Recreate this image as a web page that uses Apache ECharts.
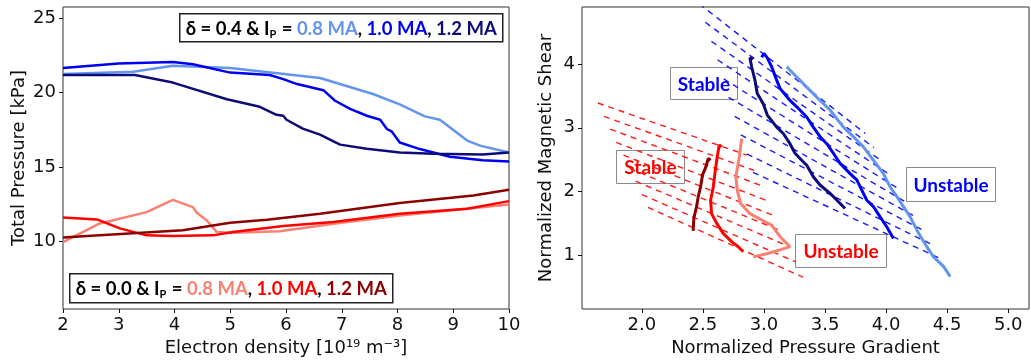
<!DOCTYPE html>
<html>
<head>
<meta charset="utf-8">
<script src="https://cdn.jsdelivr.net/npm/echarts@6/dist/echarts.min.js"></script>
<style>html,body{margin:0;padding:0;background:#fff}#c{width:1031px;height:363px}</style>
</head>
<body>
<div id="c"></div>
<script>
// ---- Left panel: Total pressure vs electron density ----
const leftXTicks = [2, 3, 4, 5, 6, 7, 8, 9, 10];
const leftYTicks = [10, 15, 20, 25];
const p_d04_08 = [[2,21.25],[3.26,21.4],[3.97,21.8],[5.0,21.65],[6.61,20.98],[7.56,19.9],[8.04,19.2],[8.49,18.4],[8.76,18.17],[9.25,16.77],[9.48,16.43],[10,15.97]];
const p_d04_10 = [[2,21.65],[3.0,21.95],[3.97,22.06],[4.33,21.9],[5.0,21.34],[5.71,21.18],[5.95,20.9],[6.2,20.57],[6.67,20.16],[6.88,19.45],[7.15,18.9],[7.45,18.44],[7.69,18.17],[7.81,17.55],[7.9,17.37],[8.04,16.64],[8.4,16.2],[8.94,15.68],[9.53,15.45],[10,15.37]];
const p_d04_12 = [[2,21.18],[3.29,21.18],[3.97,20.67],[4.94,19.55],[5.53,19.04],[5.83,18.5],[5.95,18.44],[6.01,18.17],[6.3,17.57],[6.61,17.17],[6.97,16.5],[7.45,16.22],[8.04,15.97],[8.64,15.89],[9.53,15.83],[10,15.97]];
const p_d00_08 = [[2,9.95],[2.66,11.2],[3.5,11.96],[3.97,12.79],[4.33,12.3],[4.4,11.92],[4.58,11.4],[4.76,10.62],[5.05,10.58],[5.89,10.67],[6.85,11.18],[8.04,11.74],[10,12.48]];
const p_d00_10 = [[2,11.6],[2.61,11.47],[3.02,10.87],[3.5,10.4],[3.97,10.36],[4.69,10.4],[5.05,10.62],[5.95,11.03],[6.85,11.3],[8.04,11.85],[9.25,12.19],[10,12.7]];
const p_d00_12 = [[2,10.25],[2.66,10.4],[4.15,10.74],[5.0,11.25],[5.66,11.45],[6.61,11.85],[8.04,12.57],[9.36,13.08],[10,13.46]];

// ---- Right panel: normalized shear vs normalized pressure gradient ----
const rightXTicks = [2.0, 2.5, 3.0, 3.5, 4.0, 4.5, 5.0];
const rightYTicks = [1, 2, 3, 4];
const s_d04_08 = [[3.186,3.96],[3.268,3.80],[3.35,3.64],[3.459,3.43],[3.541,3.28],[3.65,3.01],[3.732,2.86],[3.814,2.70],[3.896,2.49],[3.978,2.28],[4.033,2.07],[4.087,1.92],[4.142,1.76],[4.197,1.60],[4.252,1.39],[4.333,1.13],[4.388,0.97],[4.47,0.82],[4.525,0.66]];
const s_d04_10 = [[2.981,4.11],[3.0,4.17],[3.027,4.10],[3.063,3.96],[3.104,3.75],[3.131,3.62],[3.213,3.43],[3.268,3.33],[3.35,3.17],[3.404,3.01],[3.459,2.86],[3.514,2.75],[3.568,2.60],[3.623,2.44],[3.705,2.28],[3.76,2.18],[3.801,2.02],[3.842,1.86],[3.896,1.76],[3.951,1.60],[4.006,1.44],[4.06,1.26]];
const s_d04_12 = [[2.912,4.09],[2.885,4.10],[2.899,3.96],[2.926,3.75],[2.945,3.54],[2.994,3.38],[3.027,3.20],[3.104,3.01],[3.158,2.91],[3.213,2.75],[3.254,2.60],[3.309,2.49],[3.35,2.41],[3.404,2.23],[3.459,2.10],[3.541,1.97],[3.664,1.73]];
const s_d00_08 = [[2.817,2.83],[2.798,2.54],[2.77,2.23],[2.781,2.02],[2.809,1.81],[2.885,1.65],[2.981,1.55],[3.063,1.47],[3.131,1.29],[3.213,1.13],[3.131,1.08],[3.022,1.02],[2.912,0.97]];
const s_d00_10 = [[2.653,2.70],[2.634,2.73],[2.617,2.54],[2.598,2.28],[2.585,2.07],[2.563,1.86],[2.571,1.65],[2.612,1.50],[2.666,1.34],[2.735,1.21],[2.789,1.13],[2.83,1.05]];
const s_d00_12 = [[2.42,1.38],[2.426,1.58],[2.448,1.76],[2.462,1.92],[2.481,2.07],[2.497,2.26],[2.525,2.39],[2.544,2.52],[2.563,2.49]];
// stability boundary lines (dashed), endpoints
const redBounds = [
  [[1.64,3.39],[2.86,2.57]],[[1.69,3.18],[2.92,2.33]],[[1.74,2.98],[2.98,2.09]],
  [[1.79,2.77],[3.03,1.85]],[[1.85,2.57],[3.09,1.61]],[[1.90,2.36],[3.15,1.37]],
  [[1.95,2.16],[3.21,1.13]],[[2.00,1.95],[3.26,0.89]],[[2.05,1.75],[3.32,0.65]]
];
const blueBounds = [
  [[2.47,4.95],[3.83,2.91]],[[2.52,4.66],[3.90,2.69]],[[2.57,4.36],[3.97,2.47]],
  [[2.62,4.07],[4.04,2.25]],[[2.67,3.77],[4.11,2.03]],[[2.71,3.48],[4.18,1.81]],
  [[2.76,3.18],[4.25,1.59]],[[2.81,2.89],[4.32,1.37]],[[2.86,2.59],[4.39,1.15]],
  [[2.91,2.30],[4.46,0.93]]
];

const C = {lb:'#6495ed', b:'#0000f0', nv:'#0c0c78', sal:'#fa8072', r:'#ff0000', dr:'#8b0000'};
const FONT = 'DejaVu Sans';
const BOXFONT = 'Lato';

function axisCommon(ticks, fmt) {
  return {
    axisLine: {show: false},
    axisTick: {show: true, inside: false, length: 4, lineStyle: {color: '#111', width: 1}, customValues: ticks},
    axisLabel: {show: true, color: '#111', fontSize: 18, fontFamily: FONT, margin: 7, customValues: ticks, formatter: fmt},
    splitLine: {show: false},
    nameTextStyle: {color: '#111', fontSize: 18, fontFamily: FONT}
  };
}
function line(data, color, width, xi, extra) {
  return Object.assign({
    type: 'line', data: data, xAxisIndex: xi, yAxisIndex: xi, showSymbol: false, symbol: 'none',
    lineStyle: {color: color, width: width}, emphasis: {disabled: true}, silent: true, z: 3
  }, extra || {});
}

const series = [];
redBounds.forEach(d => series.push(line(d, '#ff1a1a', 1.4, 1, {lineStyle: {color: '#ff1a1a', width: 1.4, type: [6, 5]}, z: 2})));
blueBounds.forEach(d => series.push(line(d, '#1a1aff', 1.4, 1, {lineStyle: {color: '#1a1aff', width: 1.4, type: [6, 5]}, z: 2})));
series.push(line(s_d00_12, C.dr, 3, 1));
series.push(line(s_d00_10, C.r, 3, 1));
series.push(line(s_d00_08, C.sal, 3, 1));
series.push(line(s_d04_12, C.nv, 3, 1));
series.push(line(s_d04_10, C.b, 3, 1));
series.push(line(s_d04_08, C.lb, 3, 1));
series.push(line(p_d04_08, C.lb, 2.5, 0));
series.push(line(p_d04_10, C.b, 2.5, 0));
series.push(line(p_d04_12, C.nv, 2.5, 0));
series.push(line(p_d00_08, C.sal, 2.5, 0));
series.push(line(p_d00_10, C.r, 2.5, 0));
series.push(line(p_d00_12, C.dr, 2.5, 0));

function legendBox(left, top, w, h, delta, cols) {
  const fs = 18.5;
  const st = (c) => ({fontFamily: BOXFONT, fontWeight: 'bold', fontSize: fs, lineHeight: 22, fill: c, color: c});
  return {
    type: 'group', left: left, top: top, z: 100,
    children: [
      {type: 'rect', shape: {x: 0, y: 0, width: w, height: h}, style: {fill: '#fff', stroke: '#222', lineWidth: 1.5}},
      {type: 'text', x: w / 2, y: h / 2 + 1, style: {
        text: '{k|δ = ' + delta + ' & I}{s|P}{k| = }{a|0.8 MA}{k|, }{c|1.0 MA}{k|, }{d|1.2 MA}',
        align: 'center', verticalAlign: 'middle',
        rich: {
          k: st('#000'),
          s: Object.assign(st('#000'), {fontSize: 11, verticalAlign: 'bottom', padding: [0, 1, 0, 0]}),
          a: st(cols[0]), c: st(cols[1]), d: st(cols[2])
        }
      }}
    ]
  };
}
function labelBox(left, top, w, h, txt, color) {
  return {
    type: 'group', left: left, top: top, z: 100,
    children: [
      {type: 'rect', shape: {x: 0, y: 0, width: w, height: h}, style: {fill: 'rgba(255,255,255,0.82)', stroke: '#8a8a8a', lineWidth: 1}},
      {type: 'text', x: w / 2, y: h / 2 + 1, style: {text: txt, fill: color, fontFamily: BOXFONT, fontWeight: 'bold', fontSize: 19, align: 'center', verticalAlign: 'middle'}}
    ]
  };
}

const option = {
  animation: false,
  backgroundColor: '#fff',
  grid: [
    {left: 63, top: 7, width: 446, height: 302, show: true, borderColor: '#333', borderWidth: 1, backgroundColor: 'transparent'},
    {left: 582, top: 7, width: 447, height: 302, show: true, borderColor: '#333', borderWidth: 1, backgroundColor: 'transparent'}
  ],
  xAxis: [
    Object.assign(axisCommon(leftXTicks, v => String(v)), {gridIndex: 0, type: 'value', min: 2, max: 10, interval: 1,
      name: 'Electron density [10¹⁹ m⁻³]', nameLocation: 'middle', nameGap: 30}),
    Object.assign(axisCommon(rightXTicks, v => v.toFixed(1)), {gridIndex: 1, type: 'value', min: 1.51, max: 5.17,
      name: 'Normalized Pressure Gradient', nameLocation: 'middle', nameGap: 30})
  ],
  yAxis: [
    Object.assign(axisCommon(leftYTicks, v => String(v)), {gridIndex: 0, type: 'value', min: 5.45, max: 25.75,
      name: 'Total Pressure [kPa]', nameLocation: 'middle', nameGap: 35, nameRotate: 90}),
    Object.assign(axisCommon(rightYTicks, v => String(v)), {gridIndex: 1, type: 'value', min: 0.15, max: 4.9,
      name: 'Normalized Magnetic Shear', nameLocation: 'middle', nameGap: 27, nameRotate: 90})
  ],
  series: series,
  graphic: [
    legendBox(179, 13, 323, 28, '0.4', [C.lb, C.b, C.nv]),
    legendBox(69, 273, 323, 29, '0.0', [C.sal, C.r, C.dr]),
    labelBox(670, 67, 67, 32, 'Stable', '#0000ff'),
    labelBox(616, 150, 68, 33, 'Stable', '#ff0000'),
    labelBox(795, 234, 91, 33, 'Unstable', '#ff0000'),
    labelBox(906, 167, 89, 34, 'Unstable', '#0000ff')
  ]
};
const chart = echarts.init(document.getElementById('c'), null, {renderer: 'canvas'});
chart.setOption(option);
</script>
</body>
</html>
